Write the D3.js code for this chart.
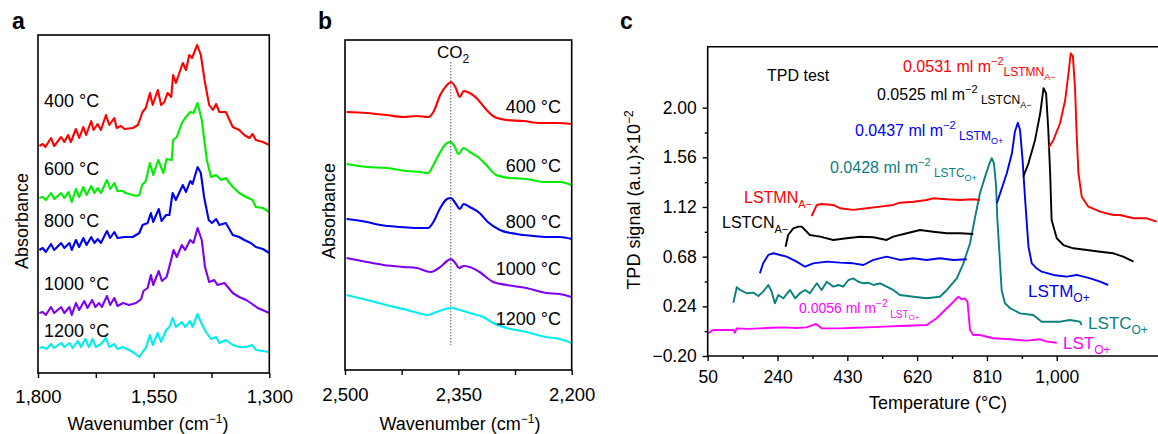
<!DOCTYPE html>
<html>
<head>
<meta charset="utf-8">
<script src="https://cdn.jsdelivr.net/npm/d3@7"></script>
<style>
body { margin: 0; background: #fff; }
text { font-family: "Liberation Sans", Arial, Helvetica, sans-serif; fill: #000; }
</style>
</head>
<body>
<svg id="chart" width="1158" height="434"></svg>
<script>
// ---------- panel a : [wavenumber, absorbance] ----------
const a400 = [[1797,2.27],[1790,2.29],[1784,2.26],[1772,2.35],[1765,2.27],[1750,2.36],[1743,2.31],[1735,2.38],[1729,2.31],[1718,2.44],[1711,2.35],[1702,2.46],[1696,2.38],[1685,2.52],[1680,2.43],[1671,2.49],[1664,2.43],[1653,2.58],[1646,2.48],[1635,2.55],[1630,2.45],[1621,2.47],[1613,2.44],[1595,2.45],[1584,2.48],[1574,2.61],[1567,2.65],[1558,2.80],[1552,2.68],[1541,2.83],[1534,2.68],[1527,2.71],[1520,2.80],[1512,2.76],[1508,2.98],[1502,2.90],[1487,3.10],[1480,3.03],[1473,3.18],[1467,3.15],[1456,3.28],[1448,3.18],[1440,2.93],[1430,2.68],[1422,2.63],[1415,2.69],[1408,2.61],[1394,2.61],[1379,2.46],[1365,2.43],[1354,2.38],[1343,2.35],[1336,2.39],[1329,2.33],[1314,2.31],[1300,2.28]];
const a600 = [[1797,1.75],[1790,1.76],[1783,1.73],[1772,1.80],[1765,1.74],[1750,1.80],[1743,1.75],[1734,1.81],[1727,1.71],[1718,1.84],[1711,1.76],[1702,1.86],[1695,1.78],[1685,1.87],[1678,1.80],[1671,1.85],[1664,1.80],[1651,1.93],[1644,1.84],[1635,1.90],[1628,1.82],[1617,1.82],[1610,1.80],[1588,1.77],[1581,1.78],[1575,1.88],[1567,1.92],[1558,2.10],[1551,1.98],[1540,2.13],[1529,2.00],[1522,2.14],[1511,2.13],[1508,2.33],[1500,2.36],[1489,2.50],[1482,2.55],[1471,2.61],[1464,2.60],[1455,2.70],[1446,2.53],[1435,2.13],[1426,1.96],[1415,1.98],[1404,1.93],[1394,1.95],[1379,1.86],[1365,1.80],[1350,1.76],[1336,1.73],[1329,1.66],[1314,1.65],[1300,1.61]];
const a800 = [[1797,1.23],[1790,1.25],[1783,1.21],[1772,1.29],[1765,1.23],[1750,1.30],[1743,1.25],[1732,1.30],[1727,1.23],[1718,1.33],[1711,1.26],[1702,1.35],[1695,1.28],[1685,1.36],[1678,1.30],[1671,1.34],[1664,1.30],[1651,1.42],[1644,1.35],[1635,1.41],[1628,1.35],[1613,1.36],[1595,1.36],[1581,1.40],[1574,1.48],[1563,1.50],[1556,1.60],[1551,1.51],[1539,1.64],[1533,1.52],[1523,1.58],[1516,1.58],[1509,1.80],[1502,1.73],[1487,1.88],[1480,1.81],[1471,1.92],[1466,1.89],[1455,2.06],[1448,2.00],[1441,1.76],[1431,1.53],[1424,1.50],[1415,1.54],[1408,1.48],[1394,1.50],[1379,1.38],[1365,1.36],[1354,1.33],[1340,1.30],[1329,1.26],[1314,1.24],[1300,1.20]];
const a1000 = [[1797,0.60],[1790,0.61],[1783,0.58],[1772,0.66],[1765,0.60],[1750,0.66],[1743,0.60],[1732,0.66],[1727,0.58],[1718,0.70],[1711,0.63],[1700,0.72],[1693,0.65],[1683,0.73],[1676,0.66],[1668,0.70],[1662,0.66],[1651,0.77],[1644,0.68],[1635,0.75],[1628,0.67],[1616,0.70],[1603,0.68],[1588,0.70],[1577,0.74],[1572,0.82],[1563,0.85],[1556,0.98],[1551,0.88],[1539,1.02],[1532,0.92],[1522,0.96],[1514,1.10],[1507,1.23],[1500,1.16],[1489,1.28],[1482,1.23],[1471,1.33],[1464,1.30],[1455,1.45],[1446,1.33],[1439,1.06],[1430,0.91],[1419,0.93],[1412,0.88],[1397,0.90],[1379,0.80],[1365,0.76],[1350,0.73],[1337,0.69],[1325,0.65],[1300,0.60]];
const a1200 = [[1797,0.25],[1790,0.26],[1781,0.24],[1772,0.29],[1765,0.25],[1750,0.30],[1743,0.26],[1732,0.30],[1725,0.25],[1714,0.32],[1707,0.26],[1698,0.34],[1690,0.26],[1682,0.34],[1675,0.26],[1664,0.29],[1653,0.35],[1646,0.26],[1635,0.29],[1628,0.24],[1617,0.26],[1603,0.23],[1592,0.20],[1581,0.16],[1574,0.21],[1567,0.25],[1558,0.38],[1552,0.28],[1541,0.40],[1534,0.31],[1523,0.43],[1516,0.46],[1509,0.55],[1502,0.46],[1489,0.51],[1482,0.46],[1471,0.52],[1466,0.46],[1455,0.59],[1448,0.51],[1437,0.41],[1426,0.34],[1415,0.36],[1408,0.30],[1394,0.33],[1379,0.28],[1365,0.26],[1350,0.26],[1337,0.28],[1329,0.23],[1300,0.21]];
const tempLabels = ["400 °C", "600 °C", "800 °C", "1000 °C", "1200 °C"];
const ticksA = [1800, 1675, 1550, 1425, 1300];
const labelTicksA = [1800, 1550, 1300];

// ---------- panel b : [wavenumber, absorbance] ----------
const b400 = [[2498,2.58],[2471,2.57],[2445,2.55],[2423,2.53],[2405,2.54],[2390,2.53],[2383,2.58],[2374,2.75],[2365,2.85],[2360,2.88],[2354,2.83],[2348,2.73],[2343,2.79],[2335,2.77],[2326,2.72],[2315,2.62],[2302,2.53],[2286,2.50],[2264,2.49],[2242,2.47],[2220,2.47],[2200,2.46]];
const b600 = [[2498,2.06],[2471,2.03],[2445,2.02],[2418,1.99],[2400,1.98],[2390,1.97],[2383,2.05],[2374,2.18],[2365,2.27],[2360,2.28],[2354,2.22],[2350,2.16],[2343,2.22],[2335,2.18],[2324,2.13],[2313,2.05],[2300,1.95],[2282,1.92],[2260,1.91],[2234,1.88],[2216,1.88],[2200,1.85]];
const b800 = [[2498,1.51],[2471,1.48],[2453,1.45],[2427,1.43],[2405,1.42],[2390,1.42],[2383,1.48],[2374,1.62],[2365,1.71],[2360,1.72],[2354,1.67],[2348,1.61],[2343,1.66],[2335,1.63],[2322,1.57],[2311,1.48],[2295,1.40],[2273,1.36],[2251,1.34],[2234,1.33],[2216,1.33],[2200,1.31]];
const b1000 = [[2498,1.12],[2471,1.08],[2449,1.05],[2423,1.03],[2405,1.02],[2387,0.98],[2374,1.03],[2365,1.09],[2360,1.11],[2354,1.07],[2349,1.02],[2343,1.04],[2335,1.03],[2322,0.98],[2304,0.88],[2286,0.85],[2260,0.82],[2234,0.77],[2216,0.76],[2200,0.73]];
const b1200 = [[2498,0.75],[2471,0.70],[2445,0.65],[2418,0.60],[2403,0.57],[2390,0.55],[2379,0.58],[2360,0.62],[2348,0.60],[2335,0.57],[2317,0.53],[2304,0.47],[2286,0.42],[2260,0.38],[2234,0.33],[2216,0.31],[2200,0.27]];
const co2Line = 2360;
const ticksB = [2500, 2425, 2350, 2275, 2200];
const labelTicksB = [2500, 2350, 2200];

// ---------- panel c : [temperature, TPD signal x10^-2], null = gap ----------
const lstO = [[52,0.001],[65,0.030],[120,0.030],[124,0.006],[129,0.045],[160,0.040],[192,0.045],[225,0.050],[256,0.054],[290,0.048],[319,0.054],[345,0.084],[360,0.045],[410,0.045],[450,0.050],[483,0.054],[530,0.060],[573,0.066],[646,0.075],[673,0.134],[701,0.223],[719,0.281],[732,0.325],[741,0.302],[750,0.311],[757,0.281],[764,0.030],[773,-0.014],[791,-0.014],[827,-0.043],[873,-0.052],[918,-0.064],[955,-0.052],[973,-0.073],[1000,-0.082]];
const lstcO = [[120,0.272],[129,0.409],[138,0.385],[156,0.356],[174,0.361],[188,0.332],[201,0.370],[215,0.429],[224,0.370],[233,0.267],[242,0.340],[256,0.311],[274,0.385],[288,0.311],[301,0.356],[315,0.385],[328,0.356],[347,0.444],[360,0.385],[374,0.458],[392,0.414],[406,0.429],[419,0.414],[433,0.473],[446,0.488],[460,0.458],[474,0.444],[487,0.449],[501,0.429],[519,0.444],[537,0.414],[555,0.385],[573,0.340],[610,0.325],[646,0.311],[682,0.325],[701,0.385],[728,0.488],[746,0.621],[764,0.799],[778,1.034],[791,1.242],[805,1.389],[817,1.507],[823,1.552],[829,1.507],[835,1.300],[838,1.034],[844,0.710],[850,0.385],[859,0.267],[873,0.223],[900,0.178],[936,0.163],[959,0.104],[982,0.104],[1009,0.104],[1036,0.119],[1063,0.104],[1068,0.075]];
const lstmO = [[192,0.533],[201,0.621],[215,0.695],[229,0.710],[247,0.695],[265,0.680],[292,0.636],[315,0.591],[337,0.621],[374,0.636],[410,0.627],[446,0.621],[474,0.606],[501,0.651],[537,0.680],[573,0.651],[610,0.666],[646,0.651],[682,0.666],[719,0.651],[755,0.657],null,[837,1.153],[846,1.242],[864,1.419],[878,1.596],[886,1.787],[894,1.867],[900,1.802],[907,1.537],[914,1.182],[923,0.768],[932,0.621],[944,0.580],[959,0.547],[991,0.518],[1027,0.503],[1054,0.518],[1091,0.488],[1118,0.458],[1140,0.429]];
const lstcnA = [[262,0.768],[269,0.872],[283,0.931],[297,0.946],[306,0.946],[315,0.916],[328,0.872],[356,0.857],[392,0.828],[428,0.843],[465,0.857],[501,0.852],[537,0.828],[555,0.857],[592,0.887],[628,0.916],[664,0.901],[701,0.887],[737,0.887],[773,0.881],null,[909,1.389],[923,1.507],[941,1.714],[955,1.950],[964,2.172],[971,2.128],[977,1.802],[982,1.419],[986,1.005],[1000,0.843],[1018,0.783],[1045,0.754],[1082,0.739],[1118,0.724],[1154,0.710],[1181,0.680],[1209,0.636]];
const lstmnA = [[333,1.040],[347,1.138],[360,1.147],[392,1.138],[410,1.109],[446,1.094],[483,1.109],[519,1.123],[555,1.138],[573,1.158],[610,1.167],[646,1.182],[664,1.197],[701,1.188],[737,1.182],[773,1.188],[791,1.182],null,[977,1.640],[991,1.714],[1009,1.862],[1023,2.068],[1032,2.305],[1038,2.482],[1044,2.452],[1050,2.157],[1054,1.773],[1059,1.419],[1068,1.211],[1086,1.123],[1118,1.079],[1154,1.049],[1172,1.049],[1209,1.020],[1245,1.020],[1272,0.990]];
const ticksCx = [50, 240, 430, 620, 810, 1000];
const minorCx = [145, 335, 525, 715, 905];
const ticksCy = [-0.20, 0.24, 0.68, 1.12, 1.56, 2.00];
const minorCy = [0.02, 0.46, 0.90, 1.34, 1.78];

const specColors = ["#ff0000", "#00ee00", "#0000f0", "#7d00f0", "#00eeee"];

let svg = d3.select("#chart");

function drawFrame(x0, y0, x1, y1) {
    svg.append("rect").attr("x", x0).attr("y", y0).attr("width", x1 - x0).attr("height", y1 - y0)
        .attr("fill", "none").attr("stroke", "#000").attr("stroke-width", 1.6);
}

function richText(x, y, parts, color, size, anchor) {
    let t = svg.append("text").attr("x", x).attr("y", y)
        .attr("font-size", size).attr("text-anchor", anchor || "start")
        .style("fill", color || "#000");
    parts.forEach(function (p) {
        t.append("tspan").attr("font-size", p[1] || size).attr("dy", p[2] || 0).text(p[0]);
    });
    return t;
}

function styleAxis(g, size) {
    g.select(".domain").remove();
    g.selectAll(".tick line").attr("stroke", "#000").attr("stroke-width", 1.4);
    g.selectAll(".tick text").attr("font-size", size).style("font-family", "'Liberation Sans', Arial, sans-serif");
}

// ================= panel a =================
let xA = d3.scaleLinear().domain([1800, 1300]).range([38, 269.3]);
let yA = d3.scaleLinear().domain([0, 3.38]).range([373, 35]);
let lineA = d3.line().x(d => xA(d[0])).y(d => yA(d[1]));

[a400, a600, a800, a1000, a1200].forEach(function (s, i) {
    svg.append("path").datum(s).attr("d", lineA).attr("fill", "none")
        .attr("stroke", specColors[i]).attr("stroke-width", 2.1).attr("stroke-linejoin", "round");
});
drawFrame(38, 35, 269.3, 373);
let axA = svg.append("g").attr("transform", "translate(0,373)")
    .call(d3.axisBottom(xA).tickValues(ticksA).tickSize(5).tickPadding(12)
        .tickFormat(d => labelTicksA.includes(d) ? d3.format(",")(d) : ""));
styleAxis(axA, 18.5);

let labelYA = [107, 175, 227, 290, 337];
tempLabels.forEach(function (t, i) {
    richText(44, labelYA[i], [[t]], "#000", 18);
});
svg.append("text").attr("transform", "translate(28,221) rotate(-90)")
    .attr("text-anchor", "middle").attr("font-size", 18).text("Absorbance");
richText(148, 430, [["Wavenumber (cm"], ["−1", 12, -7], [")", 18, 7]], "#000", 18, "middle");
svg.append("text").attr("x", 12).attr("y", 29).attr("font-size", 23).attr("font-weight", "bold").text("a");

// ================= panel b =================
let xB = d3.scaleLinear().domain([2500, 2200]).range([345, 571.7]);
let yB = d3.scaleLinear().domain([0, 3.3]).range([370, 40]);
let lineB = d3.line().x(d => xB(d[0])).y(d => yB(d[1])).curve(d3.curveMonotoneX);

svg.append("line").attr("x1", xB(co2Line)).attr("x2", xB(co2Line))
    .attr("y1", yB(3.08)).attr("y2", yB(0.25))
    .attr("stroke", "#555").attr("stroke-width", 1).attr("stroke-dasharray", "1.5,1.5");
[b400, b600, b800, b1000, b1200].forEach(function (s, i) {
    svg.append("path").datum(s).attr("d", lineB).attr("fill", "none")
        .attr("stroke", specColors[i]).attr("stroke-width", 2.1).attr("stroke-linejoin", "round");
});
drawFrame(345, 40, 571.7, 370);
let axB = svg.append("g").attr("transform", "translate(0,370)")
    .call(d3.axisBottom(xB).tickValues(ticksB).tickSize(5).tickPadding(13)
        .tickFormat(d => labelTicksB.includes(d) ? d3.format(",")(d) : ""));
styleAxis(axB, 18.5);

let labelYB = [113, 172, 228, 275, 325];
tempLabels.forEach(function (t, i) {
    richText(561, labelYB[i], [[t]], "#000", 18, "end");
});
richText(437, 58, [["CO"], ["2", 12, 5]], "#000", 17);
svg.append("text").attr("transform", "translate(335,211) rotate(-90)")
    .attr("text-anchor", "middle").attr("font-size", 18).text("Absorbance");
richText(460, 430, [["Wavenumber (cm"], ["−1", 12, -7], [")", 18, 7]], "#000", 18, "middle");
svg.append("text").attr("x", 318).attr("y", 29).attr("font-size", 23).attr("font-weight", "bold").text("b");

// ================= panel c =================
let xC = d3.scaleLinear().domain([50, 1281]).range([707.7, 1160]);
let yC = d3.scaleLinear().domain([-0.2, 2.54]).range([356, 46.7]);
let lineC = d3.line().defined(d => d !== null).x(d => xC(d[0])).y(d => yC(d[1]));

let tpdSeries = [lstO, lstcO, lstmO, lstcnA, lstmnA];
let tpdColors = ["#ff00ff", "#0a7f7f", "#0000f0", "#000000", "#ff0000"];
tpdSeries.forEach(function (s, i) {
    svg.append("path").datum(s).attr("d", lineC).attr("fill", "none")
        .attr("stroke", tpdColors[i]).attr("stroke-width", 1.9).attr("stroke-linejoin", "round");
});

svg.append("path").attr("d", "M707.7,356 V46.7 H1170 M707.7,356 H1170")
    .attr("fill", "none").attr("stroke", "#000").attr("stroke-width", 1.6);

let axCx = svg.append("g").attr("transform", "translate(0,356)")
    .call(d3.axisBottom(xC).tickValues(ticksCx).tickSize(5).tickPadding(10).tickFormat(d3.format(",")));
styleAxis(axCx, 17.5);
let axCxm = svg.append("g").attr("transform", "translate(0,356)")
    .call(d3.axisBottom(xC).tickValues(minorCx).tickSize(3).tickFormat(""));
styleAxis(axCxm, 17);
let axCy = svg.append("g").attr("transform", "translate(707.7,0)")
    .call(d3.axisLeft(yC).tickValues(ticksCy).tickSize(5).tickPadding(6).tickFormat(d3.format(".2f")));
styleAxis(axCy, 17.5);
let axCym = svg.append("g").attr("transform", "translate(707.7,0)")
    .call(d3.axisLeft(yC).tickValues(minorCy).tickSize(3).tickFormat(""));
styleAxis(axCym, 17);

svg.append("text").attr("transform", "translate(640,200) rotate(-90)")
    .attr("text-anchor", "middle").attr("font-size", 18)
    .call(function (t) {
        t.append("tspan").text("TPD signal (a.u.)×10");
        t.append("tspan").attr("font-size", 12).attr("dy", -7).text("−2");
    });
richText(938, 409, [["Temperature (°C)"]], "#000", 18, "middle");
svg.append("text").attr("x", 620).attr("y", 29).attr("font-size", 23).attr("font-weight", "bold").text("c");

richText(767, 81, [["TPD test"]], "#000", 16);
richText(903, 72, [["0.0531 ml m"], ["−2", 11, -7], ["LSTMN", 12, 11], ["A−", 9, 4]], "#ff0000", 16);
richText(877, 100, [["0.0525 ml m"], ["−2", 11, -7], [" LSTCN", 12, 11], ["A−", 9, 4]], "#000", 16);
richText(855, 136, [["0.0437 ml m"], ["−2", 11, -7], [" LSTM", 12, 11], ["O+", 9, 4]], "#0000f0", 16);
richText(830, 173, [["0.0428 ml m"], ["−2", 11, -7], [" LSTC", 12, 11], ["O+", 9, 4]], "#0a7f7f", 16);
richText(799, 313, [["0.0056 ml m"], ["−2", 10, -6], ["  LST", 10, 11], ["O+", 8, 2]], "#ff00ff", 14);

richText(744, 203, [["LSTMN"], ["A−", 11, 5]], "#ff0000", 16);
richText(722, 228, [["LSTCN"], ["A−", 11, 5]], "#000", 16);
richText(1028, 297, [["LSTM"], ["O+", 12, 5]], "#0000f0", 17);
richText(1088, 329, [["LSTC"], ["O+", 12, 5]], "#0a7f7f", 17);
richText(1063, 349, [["LST"], ["O+", 12, 5]], "#ff00ff", 17);
</script>
</body>
</html>
